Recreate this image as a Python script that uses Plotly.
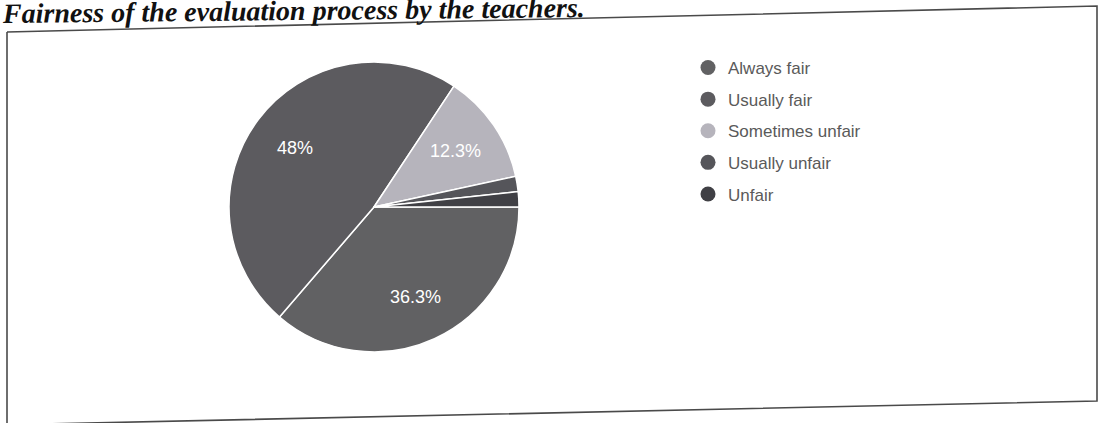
import math
import plotly.graph_objects as go

categories = ["Always fair", "Usually fair", "Sometimes unfair", "Usually unfair", "Unfair"]
values = [36.3, 48.0, 12.3, 1.7, 1.7]
labels_text = ["36.3%", "48%", "12.3%", "", ""]
colors = ["#616163", "#5c5b5f", "#b6b4bc", "#55555a", "#404045"]

W, H = 1101, 423

def px(x):
    return x / W

def py(y):
    return 1 - y / H

cx, cy, r = 374, 207, 145
start_deg = 90  # first slice starts at 3 o'clock, clockwise

fig = go.Figure()
fig.add_trace(go.Pie(
    labels=categories,
    values=values,
    textinfo="none",
    marker=dict(colors=colors, line=dict(color="white", width=1.5)),
    sort=False,
    direction="clockwise",
    rotation=start_deg,
    showlegend=False,
    hoverinfo="label+percent",
    domain=dict(x=[px(cx - r), px(cx + r)], y=[py(cy + r), py(cy - r)]),
))

# slice labels placed at ~68% of the radius, at the middle angle of each slice
total = sum(values)
acc = 0.0
for v, t in zip(values, labels_text):
    mid = start_deg + (acc + v / 2) / total * 360
    acc += v
    if not t:
        continue
    a = math.radians(mid)
    lx = cx + 0.68 * r * math.sin(a)
    ly = cy - 0.68 * r * math.cos(a)
    fig.add_annotation(text=t, xref="paper", yref="paper", x=px(lx), y=py(ly),
                       xanchor="center", yanchor="middle", showarrow=False,
                       font=dict(color="white", size=18,
                                 family="Liberation Sans, Arial, sans-serif"))

for i, (name, col) in enumerate(zip(categories, colors)):
    fig.add_trace(go.Scatter(
        x=[None], y=[None], mode="markers", name=name,
        legendgroup="g%d" % i,
        marker=dict(color=col, size=15, symbol="circle"),
        showlegend=True,
    ))

# slightly skewed frame of the scanned figure
path = "M {} {} L {} {} L {} {} L {} {}".format(
    px(7), py(32), px(1097), py(6), px(1097), py(401), px(43), py(424))
fig.add_shape(type="path", path=path, xref="paper", yref="paper",
              line=dict(color="#4a4a4a", width=1.6))
fig.add_shape(type="line", xref="paper", yref="paper",
              x0=px(7), y0=py(32), x1=px(7), y1=py(424),
              line=dict(color="#4a4a4a", width=1.6))

fig.add_annotation(
    text="<b><i>Fairness of the evaluation process by the teachers.</i></b>",
    xref="paper", yref="paper", x=0, y=py(31), xanchor="left", yanchor="bottom",
    textangle=-0.6,
    showarrow=False,
    font=dict(family="Liberation Serif, Times New Roman, serif", size=28, color="#111111"),
)

fig.update_layout(
    width=W, height=H,
    margin=dict(l=0, r=0, t=0, b=0),
    paper_bgcolor="white",
    plot_bgcolor="white",
    xaxis=dict(visible=False),
    yaxis=dict(visible=False),
    legend=dict(
        x=px(688), y=py(50), xanchor="left", yanchor="top",
        font=dict(family="Liberation Sans, Arial, sans-serif", size=17, color="#5a5a5a"),
        bgcolor="rgba(0,0,0,0)",
        tracegroupgap=6.5,
        itemclick=False,
    ),
)

fig.write_html("out.html", config={"displayModeBar": False},
               post_script="document.body.style.margin='0';")
